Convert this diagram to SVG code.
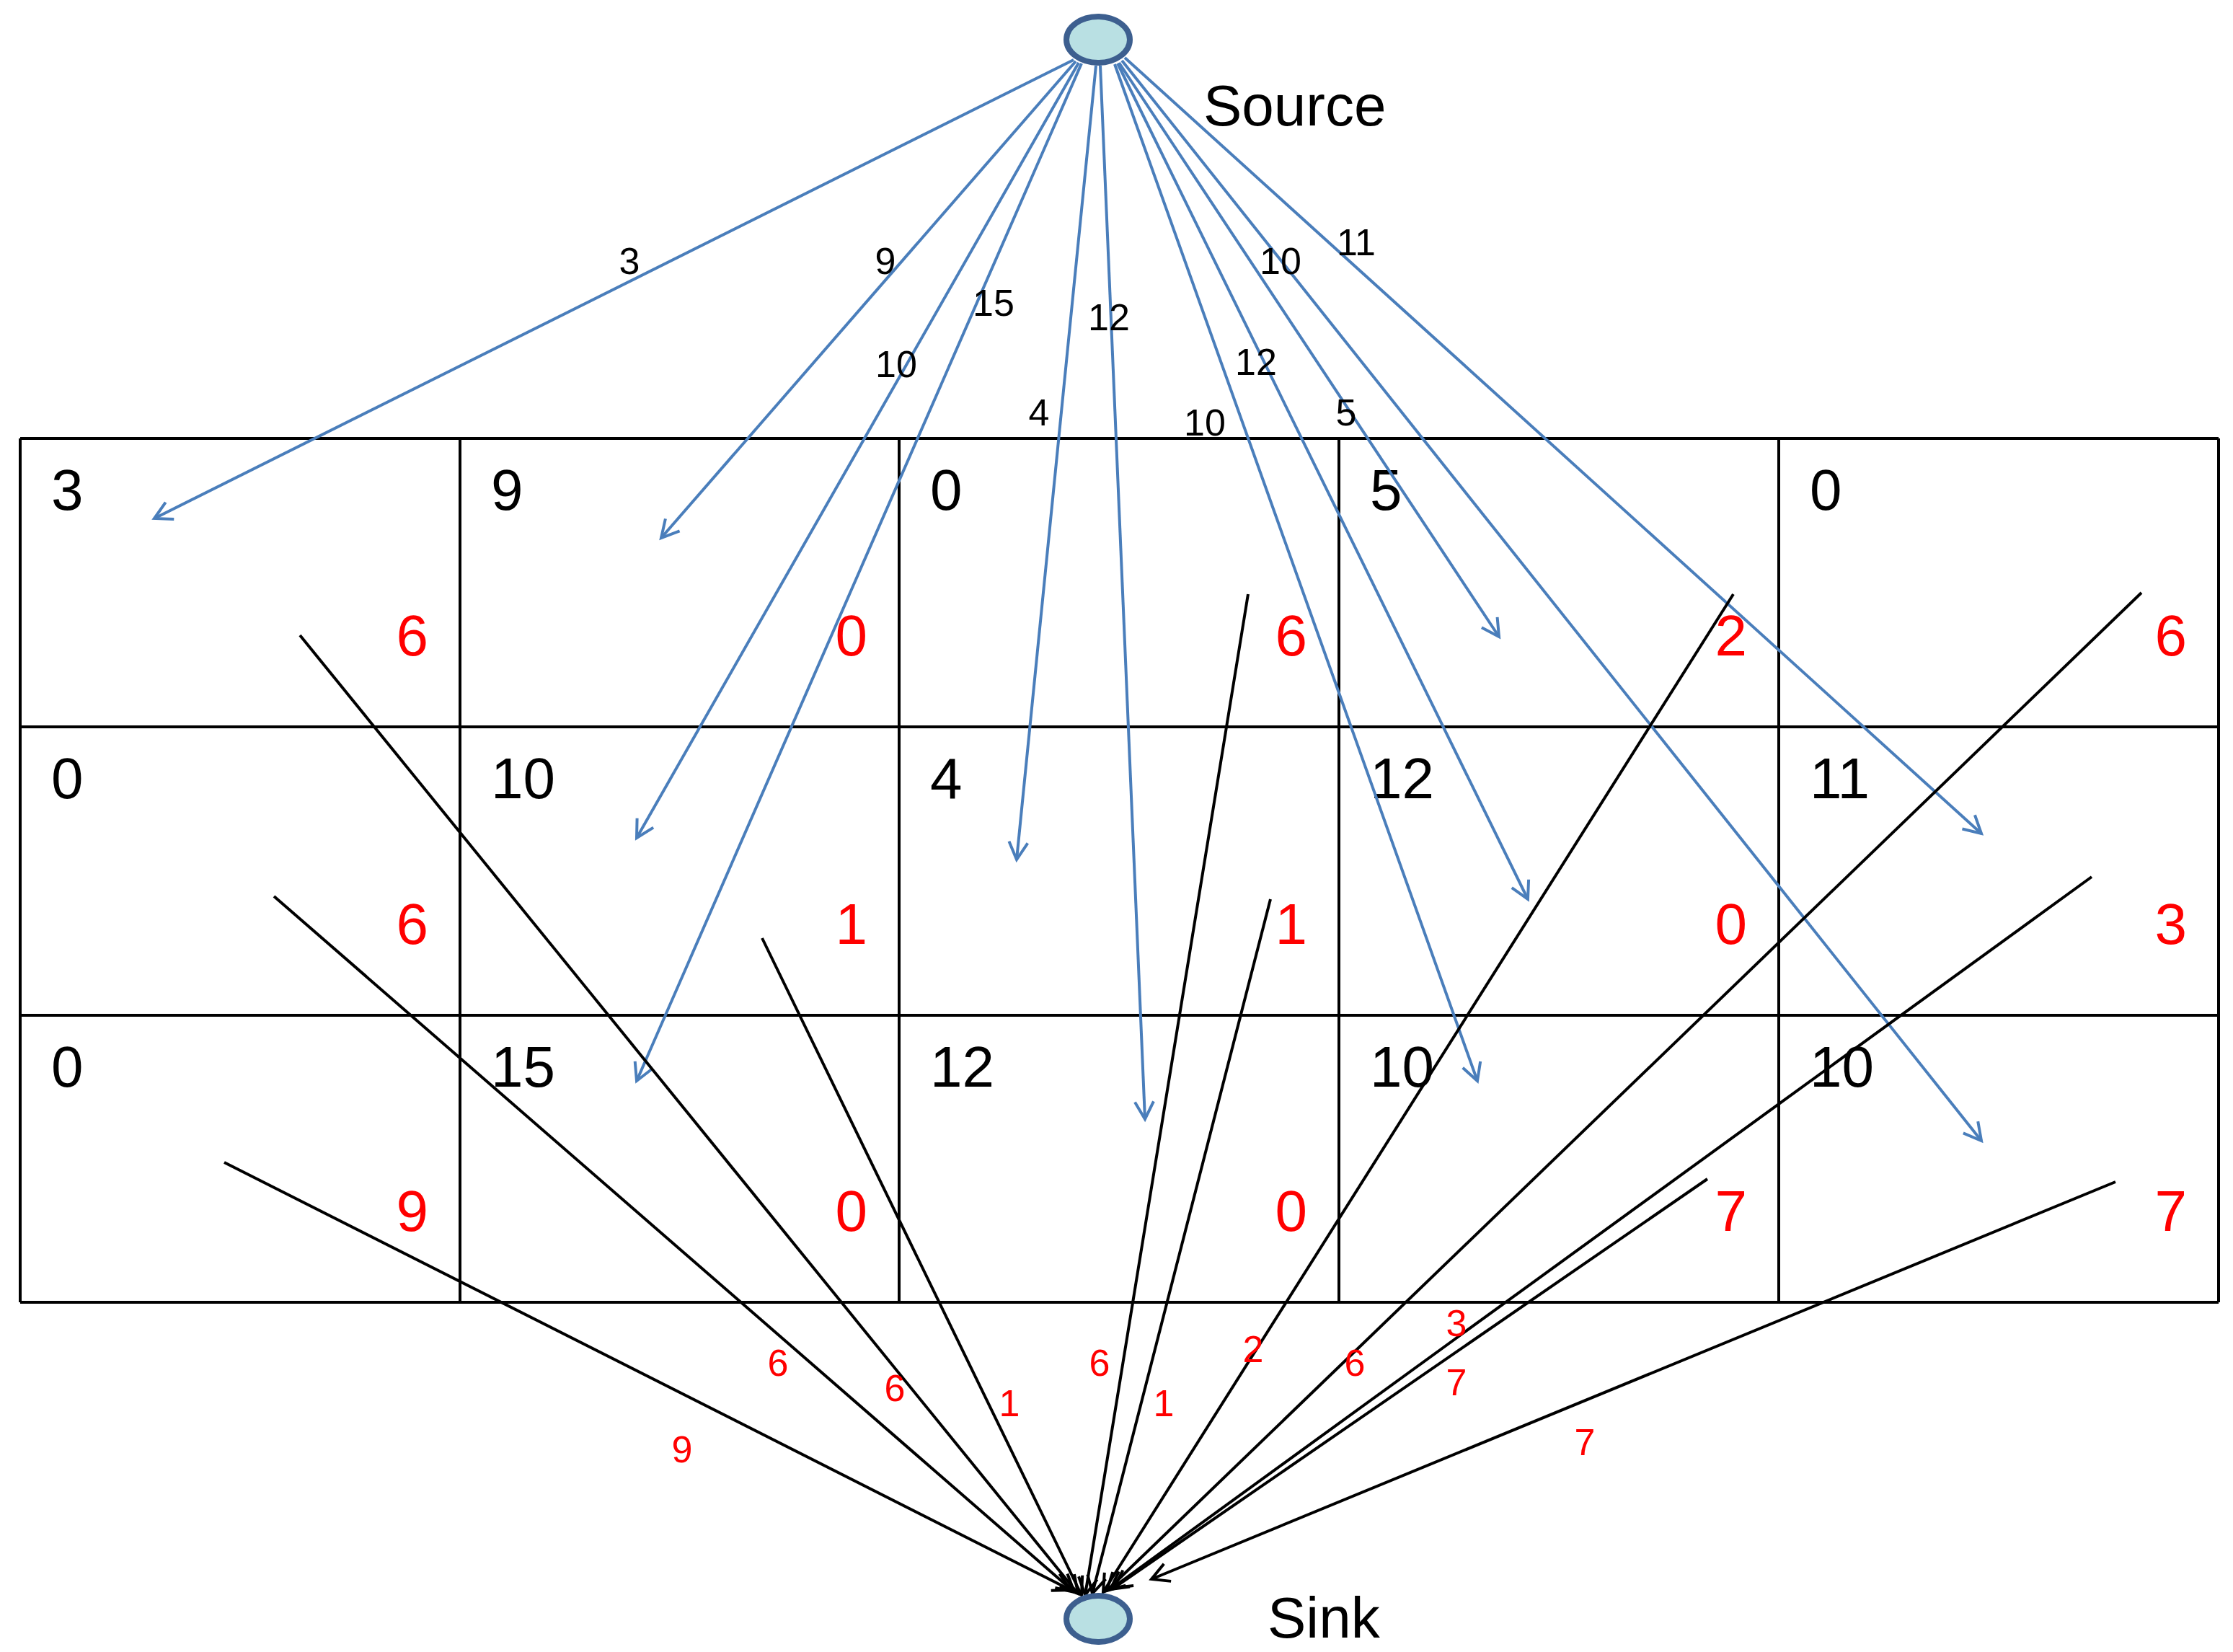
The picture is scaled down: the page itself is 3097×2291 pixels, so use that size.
<svg xmlns="http://www.w3.org/2000/svg" width="3097" height="2291" viewBox="0 0 3097 2291">
<style>
.g{stroke:#000;stroke-width:4;fill:none}
.b{stroke:#4a7ebb;stroke-width:4;fill:none;marker-end:url(#mb)}
.k{stroke:#000;stroke-width:4;fill:none;marker-end:url(#mk)}
.node{fill:#b9e0e3;stroke:#3d5f8f;stroke-width:8}
text{font-family:"Liberation Sans",Arial,sans-serif}
.n{font-size:80px;fill:#000}
.r{font-size:80px;fill:#f00;text-anchor:end}
.bl{font-size:52px;fill:#000;text-anchor:middle}
.rl{font-size:52px;fill:#f00;text-anchor:middle}
</style>
<defs>
<marker id="mb" markerUnits="userSpaceOnUse" markerWidth="60" markerHeight="60" refX="0" refY="0" viewBox="-30 -30 60 60" orient="auto"><path d="M-24,-13 L0,0 L-24,13" fill="none" stroke="#4a7ebb" stroke-width="4"/></marker>
<marker id="mk" markerUnits="userSpaceOnUse" markerWidth="60" markerHeight="60" refX="0" refY="0" viewBox="-30 -30 60 60" orient="auto"><path d="M-24,-13 L0,0 L-24,13" fill="none" stroke="#000" stroke-width="4"/></marker>
</defs>
<g id="grid">
<path class="g" d="M28,608H3077M28,1008H3077M28,1408H3077M28,1806H3077" />
<path class="g" d="M28,608V1806M638,608V1806M1247,608V1806M1857,608V1806M2467,608V1806M3077,608V1806"/>
<path class="g" stroke-width="7" d="M28,608H3077M28,1806H3077"/>
</g>
<g id="cells">
<text class="n" x="71" y="707">3</text><text class="n" x="681" y="707">9</text><text class="n" x="1290" y="707">0</text><text class="n" x="1900" y="707">5</text><text class="n" x="2510" y="707">0</text>
<text class="n" x="71" y="1107">0</text><text class="n" x="681" y="1107">10</text><text class="n" x="1290" y="1107">4</text><text class="n" x="1900" y="1107">12</text><text class="n" x="2510" y="1107">11</text>
<text class="n" x="71" y="1507">0</text><text class="n" x="681" y="1507">15</text><text class="n" x="1290" y="1507">12</text><text class="n" x="1900" y="1507">10</text><text class="n" x="2510" y="1507">10</text>
<text class="r" x="594" y="909">6</text><text class="r" x="1203" y="909">0</text><text class="r" x="1813" y="909">6</text><text class="r" x="2423" y="909">2</text><text class="r" x="3033" y="909">6</text>
<text class="r" x="594" y="1309">6</text><text class="r" x="1203" y="1309">1</text><text class="r" x="1813" y="1309">1</text><text class="r" x="2423" y="1309">0</text><text class="r" x="3033" y="1309">3</text>
<text class="r" x="594" y="1707">9</text><text class="r" x="1203" y="1707">0</text><text class="r" x="1813" y="1707">0</text><text class="r" x="2423" y="1707">7</text><text class="r" x="3033" y="1707">7</text>
</g>
<g id="connectors">
<path class="b" d="M1489,83L214,719"/>
<path class="b" d="M1492,85L917,746"/>
<path class="b" d="M1496,87L883,1162"/>
<path class="b" d="M1500,88L883,1499"/>
<path class="b" d="M1520,91L1410,1192"/>
<path class="b" d="M1526,91L1588,1552"/>
<path class="b" d="M1552,87L2079,883"/>
<path class="b" d="M1550,88L2119,1247"/>
<path class="b" d="M1546,89L2049,1499"/>
<path class="b" d="M1560,80L2748,1156"/>
<path class="b" d="M1556,84L2748,1582"/>
<path class="k" d="M416,881L1495,2210"/>
<path class="k" d="M380,1243L1490,2208"/>
<path class="k" d="M311,1612L1485,2205"/>
<path class="k" d="M1057,1301L1500,2212"/>
<path class="k" d="M1731,824L1505,2212"/>
<path class="k" d="M1762,1247L1515,2210"/>
<path class="k" d="M2404,824L1530,2208"/>
<path class="k" d="M2970,822L1535,2206"/>
<path class="k" d="M2901,1216L1540,2204"/>
<path class="k" d="M2368,1635L1545,2202"/>
<path class="k" d="M2934,1639L1597,2190"/>
</g>
<g id="labels">
<text class="bl" x="873" y="380">3</text><text class="bl" x="1228" y="380">9</text><text class="bl" x="1243" y="523">10</text><text class="bl" x="1378" y="438">15</text><text class="bl" x="1441" y="590">4</text><text class="bl" x="1538" y="458">12</text><text class="bl" x="1867" y="590">5</text><text class="bl" x="1742" y="520">12</text><text class="bl" x="1671" y="604">10</text><text class="bl" x="1881" y="354">11</text><text class="bl" x="1776" y="380">10</text>
<text class="rl" x="1079" y="1908">6</text><text class="rl" x="1241" y="1943">6</text><text class="rl" x="1400" y="1964">1</text><text class="rl" x="1525" y="1908">6</text><text class="rl" x="1614" y="1964">1</text><text class="rl" x="1738" y="1889">2</text><text class="rl" x="1879" y="1908">6</text><text class="rl" x="2020" y="1853">3</text><text class="rl" x="2020" y="1935">7</text><text class="rl" x="2198" y="2018">7</text><text class="rl" x="946" y="2028">9</text>
</g>
<g id="source"><ellipse class="node" cx="1523" cy="55" rx="44" ry="32"/><text class="n" x="1669" y="174">Source</text></g>
<g id="sink"><ellipse class="node" cx="1523" cy="2245" rx="44" ry="32"/><text class="n" x="1758" y="2271">Sink</text></g>
</svg>
